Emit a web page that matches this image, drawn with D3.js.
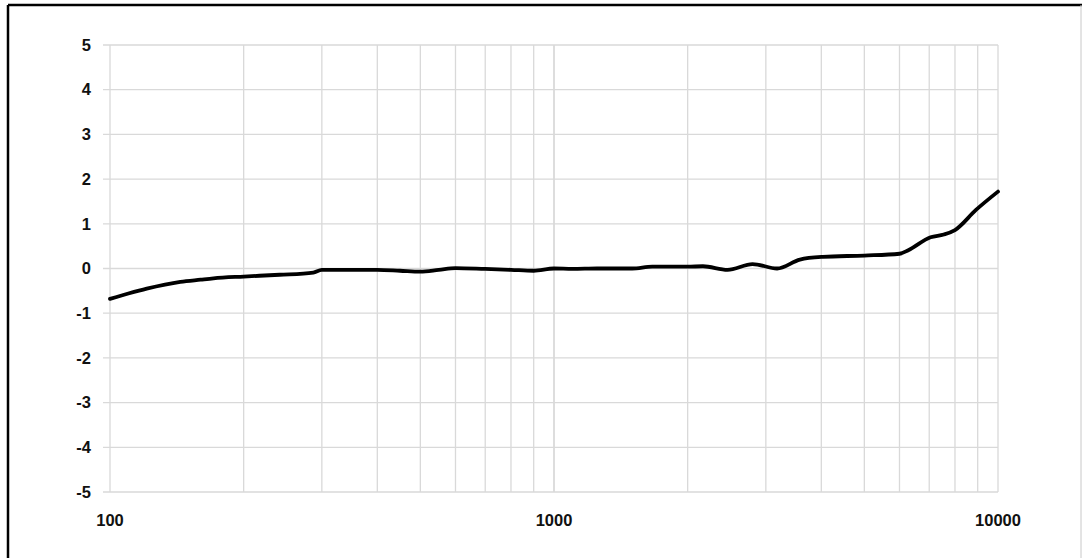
<!DOCTYPE html>
<html>
<head>
<meta charset="utf-8">
<script src="https://cdn.jsdelivr.net/npm/d3@7"></script>
<style>
  body { margin: 0; background: #fff; }
  svg { display: block; }
</style>
</head>
<body>
<div id="chart"></div>
<script>
// frequency response, Hz vs dB
var freqs = [100, 110, 121, 133, 144, 160, 171, 200, 241, 287, 300, 350, 400, 450, 500, 550, 600, 700, 800, 900, 1000,
  1100, 1250, 1500, 1665, 2000, 2165, 2460, 2800, 3180, 3580, 4030, 5000, 6000, 6280, 7050, 7550, 8000, 8920, 10000];
var levels = [-0.68, -0.56, -0.45, -0.36, -0.3, -0.25, -0.22, -0.18, -0.14, -0.09, -0.03, -0.03, -0.03, -0.05, -0.07, -0.03, 0.01, -0.01, -0.03, -0.05, 0.0,
  -0.01, 0.0, 0.0, 0.04, 0.04, 0.05, -0.03, 0.1, 0.0, 0.2, 0.26, 0.29, 0.33, 0.41, 0.7, 0.76, 0.86, 1.31, 1.72];
var yTicks = [5, 4, 3, 2, 1, 0, -1, -2, -3, -4, -5];
var xLabels = [100, 1000, 10000];
var xGrid = [];
for (var dec = 100; dec < 10000; dec *= 10) {
  for (var m = 1; m <= 10; m++) xGrid.push(dec * m);
}

var width = 1082, height = 558;
var svg = d3.select('#chart').append('svg')
  .attr('width', width)
  .attr('height', height);

// outer frame
svg.append('line').attr('x1', 8).attr('y1', 5).attr('x2', width).attr('y2', 5)
  .style('stroke', '#000').style('stroke-width', 2.5);
svg.append('line').attr('x1', 8).attr('y1', 5).attr('x2', 8).attr('y2', height)
  .style('stroke', '#000').style('stroke-width', 2.5);
svg.append('line').attr('x1', 1081).attr('y1', 5).attr('x2', 1081).attr('y2', height)
  .style('stroke', '#c8c8c8').style('stroke-width', 1);

var x = d3.scaleLog().domain([100, 10000]).range([110, 998]);
var y = d3.scaleLinear().domain([-5, 5]).range([492, 45]);

var grid = svg.append('g');
grid.selectAll('.vgrid')
  .data(xGrid)
  .enter()
  .append('line')
  .attr('class', 'vgrid')
  .attr('x1', function (d) { return x(d); })
  .attr('x2', function (d) { return x(d); })
  .attr('y1', y(5))
  .attr('y2', y(-5))
  .style('stroke', '#d9d9d9')
  .style('stroke-width', 1.3);

grid.selectAll('.hgrid')
  .data(yTicks)
  .enter()
  .append('line')
  .attr('class', 'hgrid')
  .attr('x1', 103)
  .attr('x2', x(10000))
  .attr('y1', function (d) { return y(d); })
  .attr('y2', function (d) { return y(d); })
  .style('stroke', '#d9d9d9')
  .style('stroke-width', 1.3);

svg.selectAll('.ylab')
  .data(yTicks)
  .enter()
  .append('text')
  .attr('class', 'ylab')
  .attr('x', 91)
  .attr('y', function (d) { return y(d); })
  .attr('dy', '0.35em')
  .attr('text-anchor', 'end')
  .style('font-family', 'Liberation Sans, Arial, sans-serif')
  .style('font-weight', 'bold')
  .style('font-size', '16.5px')
  .style('fill', '#111')
  .text(function (d) { return d; });

svg.selectAll('.xlab')
  .data(xLabels)
  .enter()
  .append('text')
  .attr('class', 'xlab')
  .attr('x', function (d) { return x(d); })
  .attr('y', 520)
  .attr('dy', '0.35em')
  .attr('text-anchor', 'middle')
  .style('font-family', 'Liberation Sans, Arial, sans-serif')
  .style('font-weight', 'bold')
  .style('font-size', '16.5px')
  .style('fill', '#111')
  .text(function (d) { return d; });

var pts = freqs.map(function (f, i) { return [f, levels[i]]; });
var line = d3.line()
  .x(function (d) { return x(d[0]); })
  .y(function (d) { return y(d[1]); })
  .curve(d3.curveMonotoneX);

svg.append('path')
  .datum(pts)
  .style('fill', 'none')
  .style('stroke', '#000')
  .style('stroke-width', 3.8)
  .style('stroke-linejoin', 'round')
  .style('stroke-linecap', 'round')
  .attr('d', line);
</script>
</body>
</html>
